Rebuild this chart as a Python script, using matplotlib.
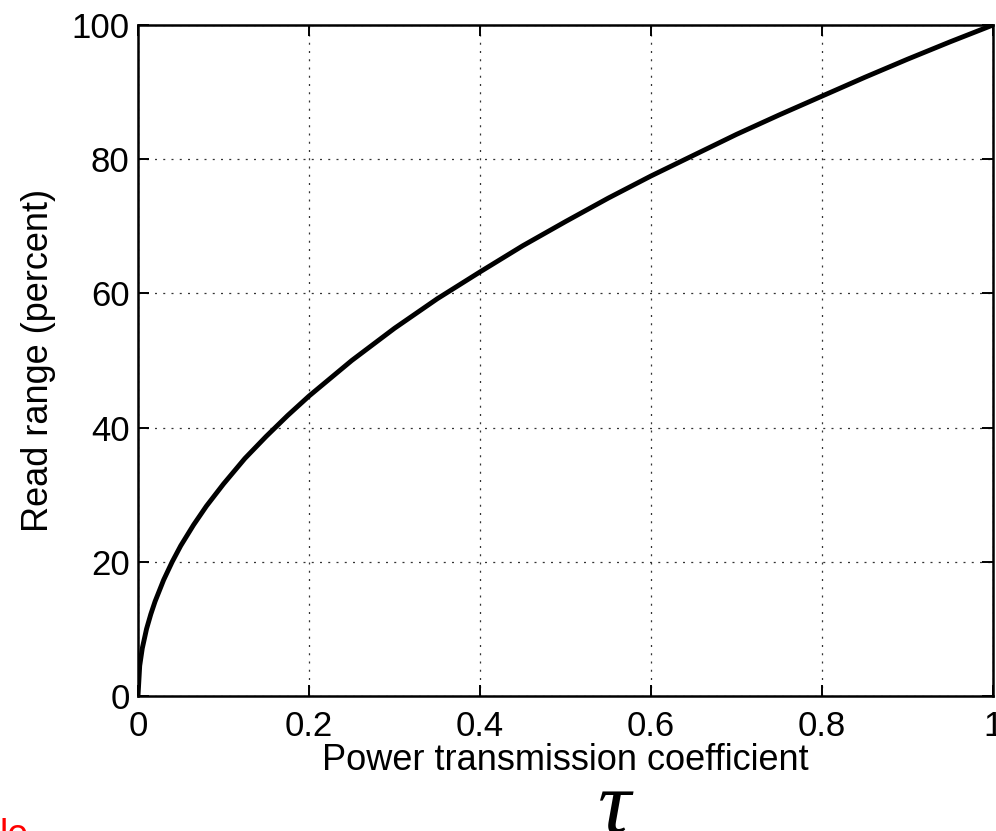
import matplotlib
matplotlib.use("Agg")
import matplotlib.pyplot as plt
from matplotlib.ticker import FixedLocator

# Data
tau = [0.0, 0.002, 0.005, 0.01, 0.015, 0.02, 0.03, 0.04, 0.05, 0.065, 0.08, 0.1,
       0.125, 0.15, 0.175, 0.2, 0.25, 0.3, 0.35, 0.4, 0.45, 0.5, 0.55, 0.6,
       0.65, 0.7, 0.75, 0.8, 0.85, 0.9, 0.95, 1.0]
read_range = [0.0, 4.5, 7.1, 10.0, 12.2, 14.1, 17.3, 20.0, 22.4, 25.5, 28.3, 31.6,
              35.4, 38.7, 41.8, 44.7, 50.0, 54.8, 59.2, 63.2, 67.1, 70.7, 74.2, 77.5,
              80.6, 83.7, 86.6, 89.4, 92.2, 94.9, 97.5, 100.0]
x_ticks = [0, 0.2, 0.4, 0.6, 0.8, 1]
x_tick_labels = ["0", "0.2", "0.4", "0.6", "0.8", "1"]
y_ticks = [0, 20, 40, 60, 80, 100]
y_tick_labels = ["0", "20", "40", "60", "80", "100"]

W, H = 996, 831
plt.rcParams['font.family'] = ['Liberation Sans', 'DejaVu Sans']
fig = plt.figure(figsize=(W / 100, H / 100), dpi=100)
ax = fig.add_axes([138 / W, 1 - 696 / H, (993 - 138) / W, (696 - 25) / H])

ax.plot(tau, read_range, color='black', linewidth=3.5, solid_capstyle='round',
        solid_joinstyle='round', zorder=3)

ax.set_xlim(0, 1)
ax.set_ylim(0, 100)
ax.xaxis.set_major_locator(FixedLocator(x_ticks))
ax.yaxis.set_major_locator(FixedLocator(y_ticks))
ax.set_xticklabels(x_tick_labels)
ax.set_yticklabels(y_tick_labels)
ax.tick_params(direction='in', length=8, width=1.4, top=True, right=True,
               labelsize=25, colors='black')
ax.tick_params(axis='x', pad=10)
ax.tick_params(axis='y', pad=6)
ax.grid(True, color='#333333', linestyle=(0, (1.6, 5.0)), linewidth=0.9)
for s in ax.spines.values():
    s.set_linewidth(1.8)

ax.set_xlabel("Power transmission coefficient", fontsize=26, labelpad=0)
ax.set_ylabel("Read range (percent)", fontsize=26, labelpad=11)

fig.text(614 / W, 1 - 833 / H, "τ", fontsize=66, ha='center', va='baseline',
         family=['Liberation Serif', 'DejaVu Serif'], style='italic')
fig.text(0 / W, 1 - 818 / H, "le", fontsize=27, ha='left', va='top', color='red')

fig.savefig("out.png", dpi=100)
